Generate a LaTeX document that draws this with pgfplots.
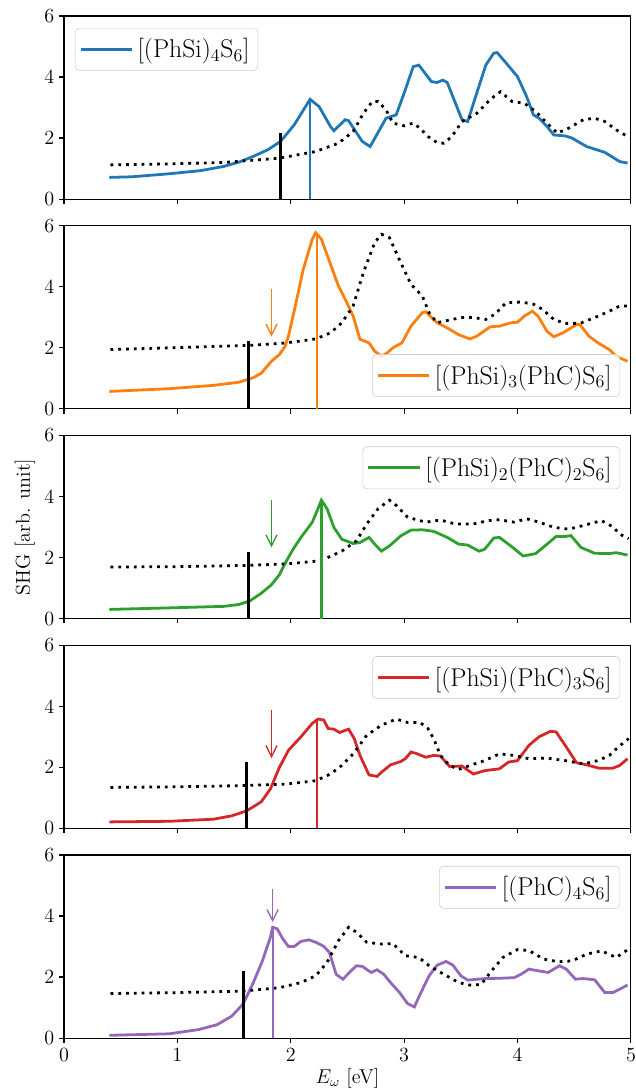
\documentclass[border=0pt]{standalone}
\usepackage{fontspec}
\usepackage{pgfplots}
\pgfplotsset{compat=1.18}
\usetikzlibrary{arrows.meta}
\definecolor{c1}{HTML}{1F77B4}
\definecolor{c2}{HTML}{FF7F0E}
\definecolor{c3}{HTML}{2CA02C}
\definecolor{c4}{HTML}{D62728}
\definecolor{c5}{HTML}{9467BD}
\newcommand{\sub}[1]{\textsubscript{#1}}
\pgfplotsset{
  panel/.style={
    scale only axis, width=408.2pt, height=131.8pt,
    xmin=0, xmax=5, ymin=0, ymax=6,
    xtick={0,1,2,3,4,5}, ytick={0,2,4,6},
    xticklabels={},
    tick align=outside, tick pos=left, major tick length=3.5pt,
    every tick/.style={black, line width=0.8pt},
    axis line style={line width=0.8pt},
    /pgf/number format/assume math mode=true,
    tick label style={font=\fontsize{14.5}{17}\selectfont},
    label style={font=\fontsize{14.5}{17}\selectfont},
    xlabel style={yshift=2pt},
    legend cell align=left,
    legend style={font=\fontsize{18.5}{22}\selectfont, draw=black!20, rounded corners=3pt,
      fill=white, fill opacity=0.8, text opacity=1, inner xsep=3pt, inner ysep=4.5pt,
      nodes={inner sep=3pt},
      /tikz/every even column/.append style={column sep=3pt}},
    legend image code/.code={\draw[##1] (0pt,0pt) -- (37pt,0pt);},
  },
  main/.style={line width=2pt},
  dots/.style={black, line width=2pt, dash pattern=on 2pt off 3.6pt, forget plot},
  gap/.style={black, line width=2.2pt, forget plot},
  peak/.style={line width=1.6pt, forget plot},
  arr/.style={line width=1pt, -{Straight Barb[length=8pt,width=8pt]}, forget plot},
}
\begin{document}
\begin{tikzpicture}
% Panel 1
\begin{axis}[panel, at={(0pt,0pt)}, anchor=north west,
  legend style={at={(0.019,0.935)}, anchor=north west}]
\addplot[main, c1] coordinates {(0.40,0.71)(0.60,0.73)(0.93,0.83)(1.20,0.93)(1.41,1.07)(1.55,1.22)(1.67,1.40)(1.80,1.62)(1.91,1.89)(2.03,2.43)(2.10,2.85)(2.17,3.27)(2.25,3.03)(2.35,2.38)(2.38,2.24)(2.48,2.60)(2.51,2.57)(2.63,1.89)(2.70,1.72)(2.84,2.65)(2.93,2.76)(3.01,3.58)(3.08,4.34)(3.13,4.39)(3.24,3.85)(3.29,3.82)(3.34,3.90)(3.38,3.82)(3.51,2.60)(3.56,2.54)(3.64,3.47)(3.72,4.39)(3.79,4.78)(3.82,4.80)(3.89,4.50)(4.00,4.01)(4.08,3.36)(4.14,2.76)(4.19,2.65)(4.26,2.38)(4.32,2.10)(4.42,2.07)(4.48,2.00)(4.61,1.72)(4.77,1.53)(4.90,1.23)(4.97,1.18)};
\addlegendentry{[(PhSi)\sub{4}S\sub{6}]}
\addplot[dots] coordinates {(0.41,1.12)(0.90,1.15)(1.41,1.20)(1.90,1.34)(2.22,1.56)(2.42,1.83)(2.55,2.21)(2.64,2.81)(2.72,3.20)(2.77,3.20)(2.84,2.92)(2.90,2.49)(3.00,2.40)(3.08,2.49)(3.14,2.32)(3.21,2.05)(3.29,1.85)(3.35,1.83)(3.42,2.05)(3.51,2.54)(3.64,2.81)(3.77,3.30)(3.85,3.52)(3.95,3.20)(4.06,3.14)(4.16,2.87)(4.26,2.49)(4.35,2.16)(4.45,2.32)(4.58,2.60)(4.68,2.65)(4.77,2.54)(4.87,2.27)(4.97,2.05)};
\addplot[gap] coordinates {(1.91,0)(1.91,2.16)};
\addplot[peak, c1] coordinates {(2.17,0)(2.17,3.27)};
\end{axis}
% Panel 2
\begin{axis}[panel, at={(0pt,-151.02pt)}, anchor=north west,
  legend style={at={(0.981,0.065)}, anchor=south east}]
\addplot[main, c2] coordinates {(0.40,0.57)(0.93,0.66)(1.32,0.77)(1.54,0.87)(1.67,1.02)(1.74,1.17)(1.83,1.56)(1.90,1.78)(1.95,2.05)(1.98,2.39)(2.04,3.37)(2.11,4.57)(2.19,5.56)(2.22,5.77)(2.27,5.56)(2.35,4.74)(2.42,4.03)(2.48,3.59)(2.55,3.04)(2.61,2.28)(2.69,2.16)(2.74,1.89)(2.80,1.72)(2.85,1.83)(2.90,2.00)(2.98,2.16)(3.06,2.71)(3.16,3.15)(3.19,3.18)(3.29,2.82)(3.38,2.65)(3.48,2.43)(3.58,2.29)(3.64,2.38)(3.76,2.69)(3.84,2.71)(3.94,2.82)(4.00,2.84)(4.06,3.04)(4.13,3.20)(4.18,3.04)(4.26,2.54)(4.32,2.36)(4.40,2.49)(4.52,2.76)(4.55,2.76)(4.63,2.38)(4.71,2.16)(4.81,1.94)(4.87,1.72)(4.97,1.56)};
\addlegendentry{[(PhSi)\sub{3}(PhC)S\sub{6}]}
\addplot[dots] coordinates {(0.41,1.94)(0.93,2.00)(1.64,2.08)(1.96,2.16)(2.22,2.29)(2.35,2.49)(2.45,2.82)(2.55,3.37)(2.64,4.46)(2.74,5.45)(2.80,5.72)(2.87,5.61)(2.97,4.79)(3.06,4.08)(3.16,3.70)(3.22,3.15)(3.29,2.82)(3.42,2.93)(3.51,2.99)(3.61,2.99)(3.72,2.93)(3.80,3.10)(3.90,3.48)(4.03,3.50)(4.14,3.43)(4.22,3.26)(4.32,2.93)(4.42,2.80)(4.55,2.80)(4.68,2.99)(4.81,3.20)(4.90,3.37)(4.98,3.37)};
\addplot[gap] coordinates {(1.63,0)(1.63,2.22)};
\addplot[peak, c2] coordinates {(2.23,0)(2.23,5.77)};
\addplot[arr, c2] coordinates {(1.83,3.93)(1.83,2.37)};
\end{axis}
% Panel 3
\begin{axis}[panel, at={(0pt,-302.04pt)}, anchor=north west,
  ylabel={SHG [arb. unit]},
  legend style={at={(0.981,0.94)}, anchor=north east}]
\addplot[main, c3] coordinates {(0.40,0.30)(0.93,0.35)(1.41,0.40)(1.54,0.46)(1.64,0.58)(1.74,0.83)(1.83,1.11)(1.90,1.44)(1.96,1.88)(2.03,2.33)(2.09,2.66)(2.19,3.16)(2.24,3.60)(2.27,3.88)(2.32,3.60)(2.38,2.99)(2.45,2.60)(2.55,2.46)(2.61,2.49)(2.69,2.66)(2.74,2.44)(2.80,2.21)(2.87,2.38)(2.97,2.71)(3.06,2.90)(3.16,2.91)(3.26,2.86)(3.38,2.66)(3.48,2.44)(3.56,2.41)(3.66,2.21)(3.71,2.27)(3.79,2.64)(3.84,2.66)(3.94,2.38)(4.05,2.05)(4.16,2.13)(4.26,2.44)(4.34,2.69)(4.42,2.69)(4.47,2.72)(4.56,2.33)(4.68,2.14)(4.81,2.13)(4.87,2.16)(4.97,2.08)};
\addlegendentry{[(PhSi)\sub{2}(PhC)\sub{2}S\sub{6}]}
\addplot[dots] coordinates {(0.41,1.69)(1.00,1.70)(1.58,1.74)(1.96,1.79)(2.22,1.88)(2.32,1.99)(2.45,2.21)(2.58,2.55)(2.67,3.10)(2.77,3.60)(2.87,3.88)(2.93,3.71)(3.03,3.32)(3.19,3.16)(3.32,3.23)(3.45,3.10)(3.61,3.10)(3.74,3.21)(3.84,3.24)(3.97,3.16)(4.08,3.27)(4.19,3.16)(4.32,2.99)(4.45,2.93)(4.58,3.05)(4.74,3.21)(4.84,3.01)(4.90,2.77)(4.98,2.62)};
\addplot[gap] coordinates {(1.63,0)(1.63,2.18)};
\addplot[peak, c3] coordinates {(2.27,0)(2.27,3.88)};
\addplot[arr, c3] coordinates {(1.83,3.90)(1.83,2.33)};
\end{axis}
% Panel 4
\begin{axis}[panel, at={(0pt,-453.06pt)}, anchor=north west,
  legend style={at={(0.981,0.94)}, anchor=north east}]
\addplot[main, c4] coordinates {(0.40,0.21)(0.93,0.23)(1.32,0.30)(1.48,0.41)(1.61,0.57)(1.74,0.87)(1.82,1.29)(1.90,2.00)(1.98,2.56)(2.09,3.00)(2.19,3.44)(2.24,3.58)(2.29,3.55)(2.33,3.27)(2.38,3.25)(2.43,3.14)(2.51,3.25)(2.56,2.94)(2.61,2.39)(2.69,1.75)(2.76,1.70)(2.80,1.84)(2.88,2.08)(2.97,2.19)(3.01,2.28)(3.06,2.50)(3.11,2.45)(3.19,2.33)(3.26,2.39)(3.32,2.37)(3.40,2.03)(3.51,2.04)(3.61,1.78)(3.71,1.89)(3.84,1.95)(3.92,2.17)(4.00,2.22)(4.10,2.72)(4.19,3.00)(4.29,3.18)(4.34,3.16)(4.42,2.72)(4.52,2.15)(4.61,2.08)(4.72,1.97)(4.84,1.97)(4.90,2.06)(4.97,2.28)};
\addlegendentry{[(PhSi)(PhC)\sub{3}S\sub{6}]}
\addplot[dots] coordinates {(0.41,1.34)(1.00,1.36)(1.58,1.40)(1.96,1.45)(2.22,1.56)(2.35,1.78)(2.45,2.06)(2.55,2.44)(2.67,3.05)(2.80,3.38)(2.93,3.58)(3.03,3.47)(3.14,3.47)(3.21,3.27)(3.26,2.94)(3.32,2.39)(3.40,2.06)(3.48,1.93)(3.58,2.06)(3.71,2.22)(3.84,2.44)(3.97,2.39)(4.10,2.28)(4.26,2.30)(4.42,2.22)(4.58,2.11)(4.71,2.22)(4.81,2.39)(4.89,2.67)(4.98,2.94)};
\addplot[gap] coordinates {(1.61,0)(1.61,2.17)};
\addplot[peak, c4] coordinates {(2.23,0)(2.23,3.58)};
\addplot[arr, c4] coordinates {(1.83,3.88)(1.83,2.30)};
\end{axis}
% Panel 5
\begin{axis}[panel, at={(0pt,-604.08pt)}, anchor=north west,
  xticklabels={0,1,2,3,4,5}, xlabel={$E_\omega$ [eV]},
  legend style={at={(0.981,0.94)}, anchor=north east}]
\addplot[main, c5] coordinates {(0.40,0.09)(0.93,0.14)(1.19,0.28)(1.35,0.44)(1.48,0.72)(1.58,1.12)(1.67,1.82)(1.75,2.53)(1.82,3.30)(1.84,3.63)(1.88,3.58)(1.93,3.25)(1.98,3.00)(2.03,3.00)(2.09,3.17)(2.16,3.22)(2.22,3.14)(2.29,3.01)(2.34,2.81)(2.40,2.09)(2.46,1.93)(2.53,2.20)(2.58,2.37)(2.63,2.35)(2.71,2.15)(2.76,2.24)(2.82,2.09)(2.88,1.82)(2.96,1.49)(3.03,1.13)(3.09,1.02)(3.14,1.43)(3.22,2.04)(3.29,2.39)(3.37,2.51)(3.43,2.39)(3.50,2.04)(3.56,1.90)(3.71,1.95)(3.84,1.96)(3.97,1.98)(4.03,2.09)(4.10,2.26)(4.19,2.20)(4.27,2.15)(4.37,2.37)(4.43,2.26)(4.51,1.93)(4.58,1.95)(4.68,1.91)(4.77,1.49)(4.84,1.49)(4.90,1.60)(4.97,1.74)};
\addlegendentry{[(PhC)\sub{4}S\sub{6}]}
\addplot[dots] coordinates {(0.41,1.46)(1.00,1.49)(1.58,1.54)(1.90,1.65)(2.09,1.82)(2.22,2.04)(2.32,2.48)(2.42,3.19)(2.51,3.63)(2.58,3.47)(2.67,3.14)(2.80,3.08)(2.90,3.10)(3.01,2.70)(3.13,2.64)(3.22,2.37)(3.35,2.09)(3.48,1.82)(3.59,1.73)(3.68,1.76)(3.77,2.20)(3.87,2.64)(4.00,2.90)(4.10,2.87)(4.23,2.59)(4.36,2.50)(4.48,2.53)(4.61,2.75)(4.74,2.86)(4.87,2.64)(4.98,2.92)};
\addplot[gap] coordinates {(1.58,0)(1.58,2.20)};
\addplot[peak, c5] coordinates {(1.84,0)(1.84,3.63)};
\addplot[arr, c5] coordinates {(1.84,4.90)(1.84,3.80)};
\end{axis}
\pgfresetboundingbox
\path[use as bounding box] (-46.08pt,11.52pt) rectangle (411.84pt,-773.28pt);
\end{tikzpicture}
\end{document}
